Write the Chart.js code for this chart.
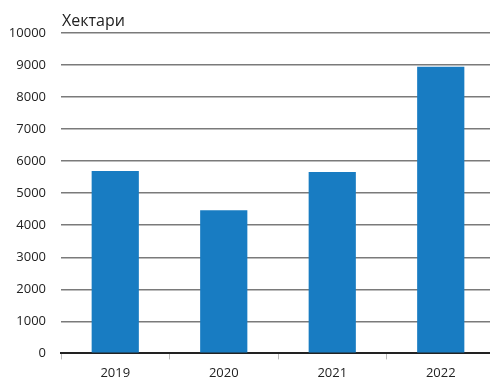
<!DOCTYPE html>
<html>
<head>
<meta charset="utf-8">
<script src="https://cdn.jsdelivr.net/npm/chart.js@4/dist/chart.umd.min.js"></script>
<style>
  html, body { margin: 0; padding: 0; background: #fff; overflow: hidden; }
  #wrap { width: 490px; height: 377px; overflow: hidden; }
</style>
</head>
<body>
<div id="wrap"><canvas id="c" width="495" height="387"></canvas></div>
<script>
const godini = ["2019", "2020", "2021", "2022"];
const hektari = [5690, 4470, 5660, 8950];
const yMin = 0, yMax = 10000, yStep = 1000;
const naslov = "Хектари";

const fontFam = "'Open Sans', 'DejaVu Sans', sans-serif";

// naslovot nad y oskata
const naslovPlugin = {
  id: "naslov",
  afterDraw(chart) {
    const ctx = chart.ctx;
    ctx.save();
    ctx.font = "16px " + fontFam;
    ctx.fillStyle = "#222";
    ctx.textBaseline = "alphabetic";
    ctx.fillText(naslov, chart.chartArea.left + 1, chart.chartArea.top - 7);
    ctx.restore();
  }
};

new Chart(document.getElementById("c"), {
  type: "bar",
  data: {
    labels: godini,
    datasets: [{
      data: hektari,
      backgroundColor: "#187cc2",
      categoryPercentage: 0.435,
      barPercentage: 1
    }]
  },
  options: {
    responsive: false,
    animation: false,
    layout: { padding: { top: 33, right: 0, left: 0, bottom: 0 } },
    plugins: { legend: { display: false }, tooltip: { enabled: false } },
    scales: {
      x: {
        grid: {
          offset: true,
          drawOnChartArea: false,
          drawTicks: true,
          tickLength: 6,
          color: "#bbb"
        },
        border: { display: true, color: "#222", width: 2 },
        ticks: { color: "#222", font: { size: 13, family: fontFam }, padding: 6 }
      },
      y: {
        min: yMin,
        max: yMax,
        ticks: {
          stepSize: yStep,
          color: "#222",
          font: { size: 13, family: fontFam },
          padding: 15,
          callback: (v) => String(v)
        },
        grid: {
          drawTicks: false,
          color: (c) => c.tick && c.tick.value === 0 ? "#222" : "#7a7a7a",
          lineWidth: (c) => c.tick && c.tick.value === 0 ? 2 : 1.5
        },
        border: { display: false },
        afterFit(scale) { scale.width = 61; }
      }
    }
  },
  plugins: [naslovPlugin]
});
</script>
</body>
</html>
